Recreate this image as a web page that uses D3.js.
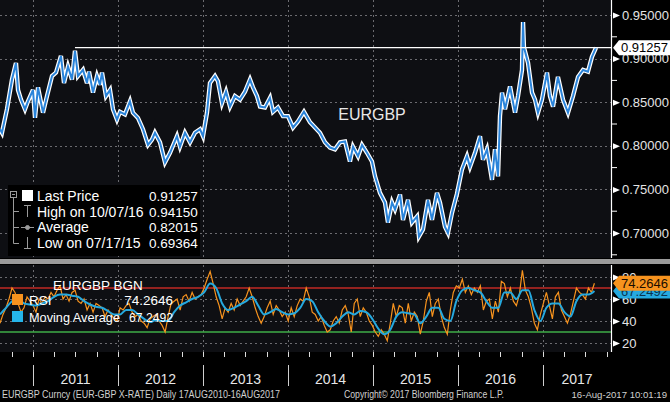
<!DOCTYPE html>
<html>
<head>
<meta charset="utf-8">
<script src="https://cdn.jsdelivr.net/npm/d3@7"></script>
<style>
  body { margin: 0; background: #000; }
  svg { display: block; font-family: "Liberation Sans", Arial, sans-serif; }
</style>
</head>
<body>
<svg width="670" height="402"></svg>
<script>
// EURGBP daily (decimal year, price)
const priceYears = [
  2010.612, 2010.635, 2010.694, 2010.753, 2010.800, 2010.824, 2010.859, 2010.906, 2010.941, 2011.000,
  2011.024, 2011.059, 2011.118, 2011.165, 2011.224, 2011.271, 2011.329, 2011.365, 2011.412, 2011.459,
  2011.494, 2011.529, 2011.588, 2011.635, 2011.659, 2011.706, 2011.753, 2011.788, 2011.812, 2011.859,
  2011.906, 2011.941, 2011.988, 2012.024, 2012.082, 2012.141, 2012.176, 2012.235, 2012.294, 2012.353,
  2012.400, 2012.435, 2012.494, 2012.553, 2012.612, 2012.694, 2012.729, 2012.788, 2012.847, 2012.906,
  2012.965, 2013.000, 2013.047, 2013.082, 2013.141, 2013.176, 2013.224, 2013.271, 2013.318, 2013.376,
  2013.435, 2013.494, 2013.553, 2013.588, 2013.635, 2013.671, 2013.729, 2013.788, 2013.824, 2013.882,
  2013.941, 2014.000, 2014.059, 2014.118, 2014.188, 2014.259, 2014.318, 2014.376, 2014.435, 2014.494,
  2014.553, 2014.612, 2014.671, 2014.729, 2014.765, 2014.824, 2014.871, 2014.929, 2014.988, 2015.024,
  2015.082, 2015.141, 2015.176, 2015.224, 2015.259, 2015.318, 2015.353, 2015.412, 2015.459, 2015.518,
  2015.541, 2015.588, 2015.647, 2015.694, 2015.753, 2015.788, 2015.847, 2015.882, 2015.929, 2015.988,
  2016.047, 2016.106, 2016.141, 2016.200, 2016.259, 2016.294, 2016.341, 2016.400, 2016.435, 2016.471,
  2016.494, 2016.518, 2016.553, 2016.612, 2016.671, 2016.706, 2016.753, 2016.765, 2016.776, 2016.824,
  2016.871, 2016.906, 2016.941, 2016.988, 2017.047, 2017.082, 2017.118, 2017.176, 2017.235, 2017.294,
  2017.353, 2017.412, 2017.471, 2017.529, 2017.576, 2017.624
];
const priceValues = [
  0.819, 0.815, 0.842, 0.876, 0.895, 0.864, 0.853, 0.842, 0.851, 0.864,
  0.832, 0.867, 0.838, 0.857, 0.880, 0.884, 0.903, 0.872, 0.891, 0.876,
  0.909, 0.880, 0.887, 0.872, 0.885, 0.861, 0.880, 0.870, 0.884, 0.857,
  0.864, 0.842, 0.830, 0.839, 0.836, 0.851, 0.838, 0.832, 0.819, 0.801,
  0.807, 0.815, 0.804, 0.781, 0.792, 0.811, 0.799, 0.815, 0.804, 0.815,
  0.819, 0.811, 0.838, 0.872, 0.880, 0.874, 0.849, 0.862, 0.845, 0.857,
  0.853, 0.862, 0.876, 0.867, 0.857, 0.845, 0.844, 0.855, 0.839, 0.844,
  0.834, 0.834, 0.821, 0.828, 0.839, 0.827, 0.821, 0.815, 0.804, 0.798,
  0.796, 0.804, 0.805, 0.782, 0.799, 0.788, 0.801, 0.792, 0.782, 0.765,
  0.746, 0.735, 0.712, 0.735, 0.727, 0.744, 0.715, 0.738, 0.712, 0.719,
  0.696, 0.704, 0.738, 0.715, 0.746, 0.735, 0.707, 0.700, 0.723, 0.745,
  0.773, 0.788, 0.776, 0.792, 0.811, 0.784, 0.796, 0.761, 0.796, 0.765,
  0.834, 0.861, 0.842, 0.868, 0.838, 0.857, 0.887, 0.942, 0.913, 0.895,
  0.861, 0.853, 0.838, 0.853, 0.884, 0.857, 0.845, 0.879, 0.853, 0.838,
  0.857, 0.879, 0.887, 0.885, 0.902, 0.9126
];

// RSI samples, one every 12.9 days from the first date
const rsiStartYear = 2010.612;
const rsiStepDays = 12.9;
const rsiValues = [
  38, 46, 52, 60, 70, 66, 56, 48, 52, 62,
  58, 54, 48, 60, 56, 62, 60, 66, 62, 68,
  72, 60, 64, 58, 66, 68, 58, 56, 60, 50,
  56, 48, 56, 54, 52, 44, 50, 46, 42, 40,
  52, 50, 54, 56, 48, 44, 46, 40, 38, 34,
  42, 44, 46, 40, 36, 30, 44, 56, 58, 60,
  50, 62, 64, 58, 66, 60, 62, 64, 70, 78,
  85, 74, 62, 54, 42, 52, 48, 56, 50, 60,
  54, 58, 62, 70, 62, 52, 44, 38, 44, 52,
  58, 46, 54, 50, 44, 48, 40, 52, 44, 54,
  60, 58, 70, 62, 48, 46, 40, 44, 36, 30,
  32, 40, 44, 38, 50, 54, 46, 30, 56, 60,
  44, 52, 48, 40, 36, 30, 26, 32, 28, 22,
  38, 56, 44, 54, 52, 38, 56, 40, 48, 44,
  28, 40, 58, 66, 44, 56, 60, 44, 34, 28,
  50, 66, 72, 70, 78, 66, 72, 64, 70, 66,
  72, 50, 58, 60, 42, 58, 48, 76, 74, 62,
  70, 58, 54, 64, 86, 68, 62, 52, 38, 32,
  46, 56, 66, 54, 42, 62, 66, 50, 44, 38,
  46, 58, 70, 66, 64, 60, 70, 66, 74.2646
];
// moving average of RSI, one sample every 25.8 days
const maStepDays = 25.8;
const maValues = [
  46, 52, 58, 60, 56, 55, 54, 56, 58, 62,
  64, 64, 63, 62, 58, 55, 53, 52, 49, 46,
  46, 50, 50, 46, 42, 39, 41, 40, 40, 48,
  54, 57, 60, 62, 66, 74, 70, 56, 50, 52,
  55, 58, 62, 54, 46, 48, 51, 48, 46, 47,
  52, 60, 58, 48, 40, 35, 38, 44, 48, 46,
  49, 48, 42, 33, 28, 32, 44, 48, 47, 46,
  38, 44, 52, 52, 42, 40, 58, 68, 70, 68,
  66, 58, 52, 52, 66, 66, 60, 68, 68, 50,
  40, 52, 56, 56, 48, 44, 58, 64, 64, 67.2492
];

const priceTicks = [0.70, 0.75, 0.80, 0.85, 0.90, 0.95];
const priceMinor = [0.675, 0.725, 0.775, 0.825, 0.875, 0.925];
const rsiTicks = [20, 40, 60, 80];
const years = [2011, 2012, 2013, 2014, 2015, 2016, 2017];

const lastPrice = 0.91257;
const lastRsi = 74.2646;
const lastMa = 67.2492;
const legendRows = [
  ["Last Price", "0.91257"],
  ["High on 10/07/16", "0.94150"],
  ["Average", "0.82015"],
  ["Low on 07/17/15", "0.69364"]
];

const W = 670, H = 402;
const plotRight = 611;
const topPanel = [0, 258];
const lowPanel = [265, 352];

const svg = d3.select("svg");

const x = d3.scaleLinear().domain([2010.612, 2017.8]).range([0, plotRight]);
const yP = d3.scaleLinear().domain([0.70, 0.95]).range([233, 15]);
const yR = d3.scaleLinear().domain([20, 80]).range([343, 277]);

svg.append("rect").attr("width", W).attr("height", H).attr("fill", "#000");
svg.append("rect").attr("x", 0).attr("y", topPanel[0]).attr("width", plotRight)
  .attr("height", topPanel[1] - topPanel[0]).attr("fill", "#0e0f13");
svg.append("rect").attr("x", 0).attr("y", lowPanel[0]).attr("width", plotRight)
  .attr("height", lowPanel[1] - lowPanel[0]).attr("fill", "#0e0f13");

// separator band
svg.append("rect").attr("x", 0).attr("y", 259).attr("width", W).attr("height", 5).attr("fill", "#9b9b9b");

// grid
const grid = svg.append("g").attr("stroke", "#6b6b70").attr("stroke-dasharray", "2,3").attr("stroke-width", 1);
grid.selectAll(".hp").data(priceTicks).enter().append("line")
  .attr("x1", 0).attr("x2", plotRight)
  .attr("y1", d => Math.round(yP(d)) + 0.5).attr("y2", d => Math.round(yP(d)) + 0.5);
grid.selectAll(".hr").data(rsiTicks).enter().append("line")
  .attr("x1", 0).attr("x2", plotRight)
  .attr("y1", d => Math.round(yR(d)) + 0.5).attr("y2", d => Math.round(yR(d)) + 0.5);
grid.selectAll(".vt").data(years).enter().append("line")
  .attr("x1", d => Math.round(x(d)) + 0.5).attr("x2", d => Math.round(x(d)) + 0.5)
  .attr("y1", topPanel[0]).attr("y2", topPanel[1]);
grid.selectAll(".vb").data(years).enter().append("line")
  .attr("x1", d => Math.round(x(d)) + 0.5).attr("x2", d => Math.round(x(d)) + 0.5)
  .attr("y1", lowPanel[0]).attr("y2", lowPanel[1]);

// price series: white bar outline with a blue core
const priceData = priceYears.map((t, i) => [t, priceValues[i]]);
const priceLine = d3.line().x(d => x(d[0])).y(d => yP(d[1]));
svg.append("path").datum(priceData).attr("d", priceLine)
  .attr("fill", "none").attr("stroke", "#ffffff").attr("stroke-width", 4.4).attr("stroke-linejoin", "miter");
svg.append("path").datum(priceData).attr("d", priceLine)
  .attr("fill", "none").attr("stroke", "#2a84da").attr("stroke-width", 2);

// last price line from the 2011 high
svg.append("line")
  .attr("x1", x(2011.494)).attr("x2", plotRight)
  .attr("y1", yP(lastPrice)).attr("y2", yP(lastPrice))
  .attr("stroke", "#fff").attr("stroke-width", 1.4);

svg.append("text").attr("x", 372).attr("y", 120).attr("text-anchor", "middle")
  .attr("font-size", 16).attr("fill", "#e8e8e8").text("EURGBP");

// legend (top panel)
const leg = svg.append("g");
leg.append("rect").attr("x", 8).attr("y", 185).attr("width", 192).attr("height", 71).attr("fill", "#000");
leg.selectAll(".lt").data(legendRows).enter().append("text")
  .attr("x", 37).attr("y", (d, i) => 201 + i * 15.7)
  .attr("font-size", 14).attr("fill", "#fff").text(d => d[0]);
leg.selectAll(".lv").data(legendRows).enter().append("text")
  .attr("x", 149).attr("y", (d, i) => 201 + i * 15.7)
  .attr("font-size", 13.5).attr("fill", "#fff").text(d => d[1]);
// tree icons
const ic = leg.append("g").attr("stroke", "#9a9a9a").attr("fill", "none").attr("stroke-width", 1);
ic.append("rect").attr("x", 10.5).attr("y", 191.5).attr("width", 6).attr("height", 6);
ic.append("line").attr("x1", 12).attr("x2", 15).attr("y1", 194.5).attr("y2", 194.5);
ic.append("line").attr("x1", 13.5).attr("x2", 13.5).attr("y1", 198).attr("y2", 243.5);
[211, 227, 243].forEach(yy => {
  ic.append("line").attr("x1", 13.5).attr("x2", 19).attr("y1", yy + 0.5).attr("y2", yy + 0.5);
});
leg.append("rect").attr("x", 22).attr("y", 190).attr("width", 11).attr("height", 11).attr("fill", "#fff");
ic.append("line").attr("x1", 27.5).attr("x2", 27.5).attr("y1", 205).attr("y2", 217);
ic.append("line").attr("x1", 24).attr("x2", 31).attr("y1", 205.5).attr("y2", 205.5);
ic.append("line").attr("x1", 21).attr("x2", 34).attr("y1", 227.5).attr("y2", 227.5);
ic.append("circle").attr("cx", 27.5).attr("cy", 227.5).attr("r", 2).attr("fill", "#9a9a9a");
ic.append("line").attr("x1", 27.5).attr("x2", 27.5).attr("y1", 237).attr("y2", 249);
ic.append("line").attr("x1", 24).attr("x2", 31).attr("y1", 248.5).attr("y2", 248.5);

// RSI panel
svg.append("line").attr("x1", 0).attr("x2", plotRight)
  .attr("y1", yR(70)).attr("y2", yR(70)).attr("stroke", "#c22a25").attr("stroke-width", 1.3);
svg.append("line").attr("x1", 0).attr("x2", plotRight)
  .attr("y1", yR(30)).attr("y2", yR(30)).attr("stroke", "#3fae49").attr("stroke-width", 1.3);

const rsiData = rsiValues.map((v, i) => [rsiStartYear + i * rsiStepDays / 365.25, v]);
const maData = maValues.map((v, i) => [rsiStartYear + i * maStepDays / 365.25, v]);
const rsiLine = d3.line().x(d => x(d[0])).y(d => yR(d[1]));
svg.append("path").datum(rsiData).attr("d", rsiLine)
  .attr("fill", "none").attr("stroke", "#f7931e").attr("stroke-width", 1.2);
svg.append("path").datum(maData).attr("d", rsiLine.curve(d3.curveMonotoneX))
  .attr("fill", "none").attr("stroke", "#25a9df").attr("stroke-width", 2);

const lg2 = svg.append("g").attr("font-size", 13.5).attr("fill", "#fff");
lg2.append("text").attr("x", 53).attr("y", 290).text("EURGBP BGN");
lg2.append("rect").attr("x", 12).attr("y", 294).attr("width", 11).attr("height", 11).attr("fill", "#f7931e");
lg2.append("text").attr("x", 29).attr("y", 305).text("RSI");
lg2.append("text").attr("x", 173).attr("y", 305).attr("text-anchor", "end").text(lastRsi.toFixed(4));
lg2.append("rect").attr("x", 12).attr("y", 311).attr("width", 11).attr("height", 11).attr("fill", "#25b5ea");
lg2.append("text").attr("x", 29).attr("y", 322)
  .attr("textLength", 91).attr("lengthAdjust", "spacingAndGlyphs").text("Moving Average");
lg2.append("text").attr("x", 173).attr("y", 322).attr("text-anchor", "end")
  .attr("textLength", 44).attr("lengthAdjust", "spacingAndGlyphs").text(lastMa.toFixed(4));

// right axes
function rightAxis(scale, ticks, fmt, range) {
  const g = svg.append("g").attr("transform", `translate(${plotRight},0)`);
  g.call(d3.axisRight(scale).tickValues(ticks).tickFormat(fmt).tickSize(0).tickPadding(11));
  g.select(".domain").remove();
  g.append("line").attr("x1", 0.5).attr("x2", 0.5).attr("y1", range[0]).attr("y2", range[1])
    .attr("stroke", "#fff").attr("stroke-width", 1.2);
  g.selectAll(".tick text").attr("fill", "#e4e4e4").attr("font-size", 13)
    .attr("font-family", "Liberation Sans, Arial, sans-serif");
  g.selectAll(".tick").append("path").attr("d", "M2,-3L9,0L2,3Z").attr("fill", "#fff");
  return g;
}
const pAxis = rightAxis(yP, priceTicks, d3.format(".5f"), topPanel);
pAxis.selectAll(".minor").data(priceMinor).enter().append("line")
  .attr("x1", 0).attr("x2", 6).attr("y1", d => yP(d)).attr("y2", d => yP(d))
  .attr("stroke", "#fff");
rightAxis(yR, rsiTicks, d3.format("d"), lowPanel);

// value tags
function tag(yy, fill, txtFill, label) {
  const g = svg.append("g");
  g.append("path")
    .attr("d", `M${plotRight + 2},${yy}L${plotRight + 8},${yy - 7.5}L${W},${yy - 7.5}L${W},${yy + 7.5}L${plotRight + 8},${yy + 7.5}Z`)
    .attr("fill", fill);
  g.append("text").attr("x", plotRight + 10).attr("y", yy + 4.8)
    .attr("font-size", 13).attr("fill", txtFill).text(label);
}
tag(yP(lastPrice), "#fff", "#000", lastPrice.toFixed(5));
tag(yR(lastMa), "#25a9df", "#0b3550", lastMa.toFixed(4));
tag(yR(lastRsi), "#f7931e", "#1a0d00", lastRsi.toFixed(4));

// bottom time axis
const quarters = d3.range(2010.75, 2017.8, 0.25);
svg.append("g").selectAll("line").data(quarters).enter().append("line")
  .attr("x1", d => Math.round(x(d)) + 0.5).attr("x2", d => Math.round(x(d)) + 0.5)
  .attr("y1", lowPanel[1]).attr("y2", lowPanel[1] + 5).attr("stroke", "#ddd");
svg.append("g").selectAll("line").data(years).enter().append("line")
  .attr("x1", d => Math.round(x(d)) + 0.5).attr("x2", d => Math.round(x(d)) + 0.5)
  .attr("y1", 365).attr("y2", 386).attr("stroke", "#cfcfcf");
svg.append("g").selectAll("text").data(years).enter().append("text")
  .attr("x", d => (x(d) + Math.min(x(d + 1), plotRight)) / 2)
  .attr("y", 384).attr("text-anchor", "middle")
  .attr("font-size", 14).attr("fill", "#e6e6e6").text(d => d);

// footer
const ft = svg.append("g").attr("font-size", 10.5).attr("fill", "#d0d0d0");
ft.append("text").attr("x", 2).attr("y", 398)
  .attr("textLength", 278).attr("lengthAdjust", "spacingAndGlyphs")
  .text("EURGBP Curncy (EUR-GBP X-RATE)  Daily 17AUG2010-16AUG2017");
ft.append("text").attr("x", 344).attr("y", 398)
  .attr("textLength", 160).attr("lengthAdjust", "spacingAndGlyphs")
  .text("Copyright\u00A9 2017 Bloomberg Finance L.P.");
ft.append("text").attr("x", 667).attr("y", 398).attr("text-anchor", "end")
  .attr("font-size", 9.6)
  .text("16-Aug-2017 10:01:19");
</script>
</body>
</html>
